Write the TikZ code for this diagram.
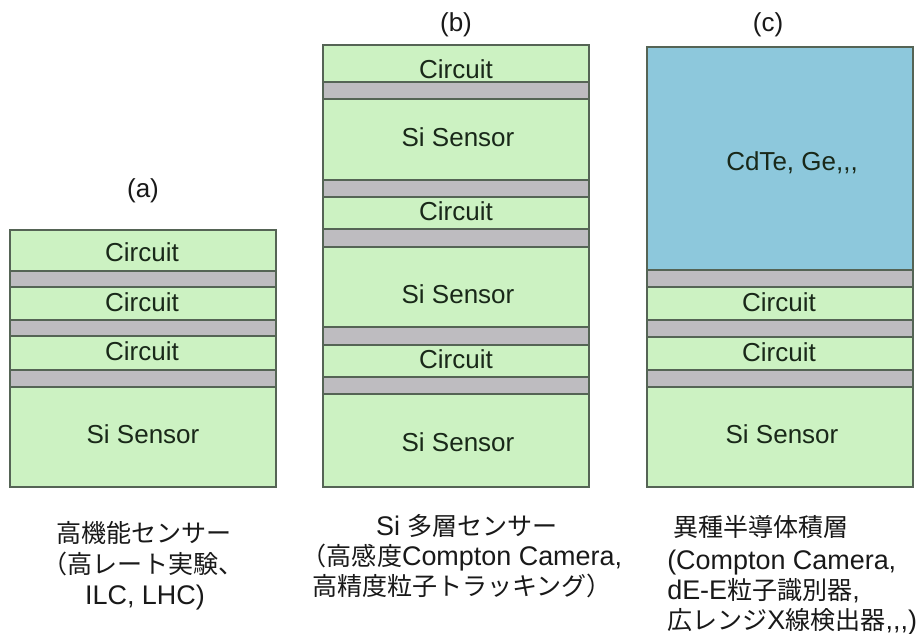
\documentclass[tikz,border=0pt]{standalone}
\usepackage{fontspec}
\setmainfont{Liberation Sans}
\newfontfamily\jp{Noto Sans CJK JP}[Scale=0.93]
\definecolor{lgreen}{RGB}{204,242,194}
\definecolor{band}{RGB}{190,188,192}
\definecolor{lblue}{RGB}{141,200,220}
\definecolor{edge}{RGB}{85,100,85}
\definecolor{ink}{RGB}{25,40,25}
\newcommand{\cm}{,\kern0pt}
\begin{document}
\begin{tikzpicture}[x=0.75pt,y=-0.75pt,
  lay/.style={draw=edge,line width=0.9pt},
  gl/.style={lay,fill=lgreen},
  gb/.style={lay,fill=band},
  bl/.style={lay,fill=lblue},
  lbl/.style={font=\fontsize{19.5}{22}\selectfont,text=ink,inner sep=0pt,text height=14pt,text depth=0pt},
  capt/.style={font=\fontsize{20.2}{22}\selectfont,text=black!90,inner sep=0pt,anchor=base},
  captl/.style={capt,anchor=base west}]
\useasboundingbox[fill=white] (0,0) rectangle (917,634);

% (a)
\draw[gl] (10,230) rectangle (276,271);
\draw[gb] (10,271) rectangle (276,287);
\draw[gl] (10,287) rectangle (276,320);
\draw[gb] (10,320) rectangle (276,336);
\draw[gl] (10,336) rectangle (276,370);
\draw[gb] (10,370) rectangle (276,387);
\draw[gl] (10,387) rectangle (276,487);
\node[lbl] (a1) at (142,252) {Circuit};
\node[lbl] (a2) at (142,302) {Circuit};
\node[lbl] (a3) at (142,351) {Circuit};
\node[lbl] (a4) at (143,434) {Si Sensor};
\node[capt,font=\fontsize{19.5}{22}\selectfont] (la) at (143,198) {(a)};

% (b)
\draw[gl] (323,45) rectangle (589,82);
\draw[gb] (323,82) rectangle (589,99);
\draw[gl] (323,99) rectangle (589,180);
\draw[gb] (323,180) rectangle (589,197);
\draw[gl] (323,197) rectangle (589,229);
\draw[gb] (323,229) rectangle (589,247);
\draw[gl] (323,247) rectangle (589,327);
\draw[gb] (323,327) rectangle (589,345);
\draw[gl] (323,345) rectangle (589,377);
\draw[gb] (323,377) rectangle (589,394);
\draw[gl] (323,394) rectangle (589,487);
\node[lbl] (b1) at (456,69) {Circuit};
\node[lbl] (b2) at (458,137) {Si Sensor};
\node[lbl] (b3) at (456,211) {Circuit};
\node[lbl] (b4) at (458,294) {Si Sensor};
\node[lbl] (b5) at (456,359) {Circuit};
\node[lbl] (b6) at (458,442) {Si Sensor};
\node[capt,font=\fontsize{19.5}{22}\selectfont] (lb) at (456,32) {(b)};

% (c)
\draw[bl] (647,47) rectangle (913,270);
\draw[gb] (647,270) rectangle (913,287);
\draw[gl] (647,287) rectangle (913,320);
\draw[gb] (647,320) rectangle (913,337);
\draw[gl] (647,337) rectangle (913,370);
\draw[gb] (647,370) rectangle (913,387);
\draw[gl] (647,387) rectangle (913,487);
\node[lbl] (c1) at (792,161) {CdTe, Ge\cm\cm,};
\node[lbl] (c2) at (779,302) {Circuit};
\node[lbl] (c3) at (779,352) {Circuit};
\node[lbl] (c4) at (782,434) {Si Sensor};
\node[capt,font=\fontsize{19.5}{22}\selectfont] (lc) at (768,32) {(c)};

% captions
\node[capt] (ta1) at (144,542) {\jp 高機能センサー};
\node[capt] (ta2) at (143,573) {\jp （高レート実験、};
\node[capt] (ta3) at (145,604) {ILC, LHC)};

\node[capt] (tb1) at (467,535) {Si {\jp 多層センサー}};
\node[capt] (tb2) at (462,565) {{\jp （高感度}Compton Camera,};
\node[capt] (tb3) at (462,595) {\jp 高精度粒子トラッキング）};

\node[captl] (tc1) at (673,536) {\jp 異種半導体積層};
\node[captl] (tc2) at (667,569) {(Compton Camera,};
\node[captl] (tc3) at (667,599) {dE-E{\jp 粒子識別器},};
\node[captl] (tc4) at (667,629) {{\jp 広レンジ}X{\jp 線検出器}\cm\cm,)};
\end{tikzpicture}
\end{document}
